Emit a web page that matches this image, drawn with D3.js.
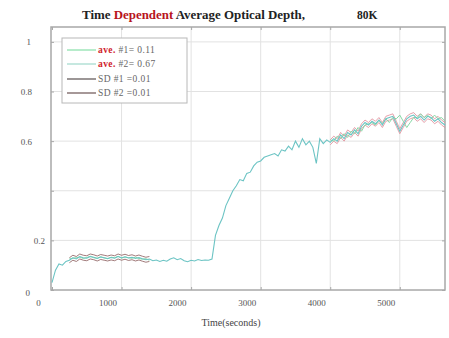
<!DOCTYPE html>
<html>
<head>
<meta charset="utf-8">
<script src="https://cdn.jsdelivr.net/npm/d3@7/dist/d3.min.js"></script>
<style>
  html, body { margin: 0; padding: 0; background: #fff; }
  svg { display: block; font-family: "Liberation Serif", "Times New Roman", serif; }
</style>
</head>
<body>
<svg id="chart" width="449" height="338"></svg>
<script>
// Optical depth sampled every 50 s from t = 0 to t = 5650 s
const sampleStep = 50;
const opticalDepth = [
  0.03, 0.08, 0.105, 0.10, 0.115, 0.12, 0.13, 0.125, 0.135, 0.13,
  0.128, 0.135, 0.132, 0.127, 0.133, 0.13, 0.127, 0.131, 0.128, 0.135,
  0.13, 0.134, 0.129, 0.132, 0.127, 0.131, 0.126, 0.122, 0.125, 0.118,
  0.121, 0.115, 0.12, 0.116, 0.125, 0.13, 0.122, 0.127, 0.118, 0.114,
  0.12, 0.117, 0.123, 0.119, 0.121, 0.12, 0.125, 0.22, 0.26, 0.29,
  0.34, 0.37, 0.40, 0.42, 0.445, 0.44, 0.47, 0.475, 0.50, 0.515,
  0.52, 0.535, 0.54, 0.545, 0.55, 0.54, 0.565, 0.56, 0.58, 0.565,
  0.60, 0.575, 0.61, 0.585, 0.60, 0.575, 0.51, 0.61, 0.59, 0.605,
  0.595, 0.61, 0.60, 0.625, 0.61, 0.635, 0.625, 0.645, 0.63, 0.66,
  0.675, 0.665, 0.68, 0.67, 0.685, 0.665, 0.69, 0.695, 0.70, 0.67,
  0.64, 0.665, 0.69, 0.70, 0.705, 0.69, 0.70, 0.685, 0.70, 0.695,
  0.68, 0.69, 0.675, 0.665
];

// Second trace over the two averaging windows
const window1Start = 250;
const window1Depth = [
  0.125, 0.128, 0.13, 0.133, 0.127, 0.131, 0.136, 0.13, 0.128, 0.134,
  0.129, 0.126, 0.132, 0.13, 0.136, 0.128, 0.133, 0.13, 0.128, 0.132,
  0.127, 0.124, 0.126, 0.12
];
const window2Start = 4000;
const window2Depth = [
  0.605, 0.60, 0.62, 0.61, 0.63, 0.615, 0.64, 0.63, 0.655, 0.64,
  0.665, 0.67, 0.675, 0.665, 0.685, 0.67, 0.69, 0.675, 0.695, 0.69,
  0.705, 0.68, 0.655, 0.675, 0.695, 0.695, 0.71, 0.695, 0.705, 0.69,
  0.705, 0.69, 0.695, 0.68
];

// Window statistics
const windowAverages = [0.11, 0.67];
const windowSD = [0.01, 0.01];

// Axis ticks
const xTicks = [0, 1000, 2000, 3000, 4000, 5000];
const yTicks = [0, 0.2, 0.4, 0.6, 0.8, 1];
const yTickLabels = ["0", "0.2", "", "0.6", "0.8", "1"];

const legendLabels = ["#1= 0.11", "#2= 0.67", "SD #1 =0.01", "SD #2 =0.01"];

const svg = d3.select("#chart");
const plotLeft = 51, plotRight = 445, plotTop = 27, plotBottom = 290;

const x = d3.scaleLinear().domain([0, 5650]).range([52, plotRight]);
const y = d3.scaleLinear().domain([0, 1.06]).range([plotBottom, plotTop]);

// grid
const grid = svg.append("g");
grid.selectAll("line.v").data(xTicks.slice(1)).join("line")
  .attr("x1", d => x(d)).attr("x2", d => x(d))
  .attr("y1", plotTop).attr("y2", plotBottom)
  .attr("stroke", "#e2e2e2").attr("stroke-width", 1);
grid.selectAll("line.h").data(yTicks.slice(1)).join("line")
  .attr("x1", plotLeft).attr("x2", plotRight)
  .attr("y1", d => y(d)).attr("y2", d => y(d))
  .attr("stroke", "#e2e2e2").attr("stroke-width", 1);

// axes with inward ticks
const axisColor = "#a8a8a8";
const xAxis = svg.append("g").attr("transform", `translate(0,${plotBottom})`)
  .call(d3.axisBottom(x).tickValues(xTicks).tickSize(-3).tickFormat(d => d));
const xAxisTop = svg.append("g").attr("transform", `translate(0,${plotTop})`)
  .call(d3.axisTop(x).tickValues(xTicks).tickSize(-3).tickFormat(""));
const yAxis = svg.append("g").attr("transform", `translate(${plotLeft},0)`)
  .call(d3.axisLeft(y).tickValues(yTicks).tickSize(-3).tickFormat((d, i) => yTickLabels[i]));
const yAxisRight = svg.append("g").attr("transform", `translate(${plotRight},0)`)
  .call(d3.axisRight(y).tickValues(yTicks).tickSize(-3).tickFormat(""));

[xAxis, xAxisTop, yAxis, yAxisRight].forEach(g => {
  g.select(".domain").remove();
  g.selectAll(".tick line").attr("stroke", axisColor).attr("stroke-width", 1);
  g.selectAll("text").attr("fill", "#555").attr("font-size", 9)
    .attr("font-family", "'Liberation Serif', serif");
});
xAxis.selectAll("text").attr("dx", -14).attr("dy", 13);
// per-label nudges on the y axis labels: [x end offset, y shift]
const yNudge = { "0": [-26, 3], "0.2": [-11, 0], "0.6": [-24, 0], "0.8": [-24, 0], "1": [-25, 0] };
yAxis.selectAll(".tick text").each(function (d, i) {
  const n = yNudge[yTickLabels[i]] || [0, 0];
  d3.select(this).attr("x", 5 + n[0]).attr("dy", "0.32em").attr("transform", `translate(0,${n[1]})`);
});

// frame
svg.append("rect").attr("x", plotLeft).attr("y", plotTop)
  .attr("width", plotRight - plotLeft).attr("height", plotBottom - plotTop)
  .attr("fill", "none").attr("stroke", axisColor).attr("stroke-width", 1.5);

const line = d3.line().x(d => x(d[0])).y(d => y(d[1]));

const mainPts = opticalDepth.map((v, i) => [i * sampleStep, v]);
const w1Pts = window1Depth.map((v, i) => [window1Start + i * sampleStep, v]);
const w2Pts = window2Depth.map((v, i) => [window2Start + i * sampleStep, v]);

function inRange(a, b) { return mainPts.filter(p => p[0] >= a && p[0] <= b); }
const win1 = inRange(window1Start, window1Start + (window1Depth.length - 1) * sampleStep);
const win2 = inRange(window2Start, window2Start + (window2Depth.length - 1) * sampleStep);

const plot = svg.append("g");
// standard-deviation envelopes
[[win1, windowSD[0], "#8a5a5a"], [win2, windowSD[1], "#e08a96"]].forEach(([pts, sd, c]) => {
  [sd, -sd].forEach(off => {
    plot.append("path").datum(pts.map(p => [p[0], p[1] + off]))
      .attr("d", line).attr("fill", "none").attr("stroke", c)
      .attr("stroke-width", 1).attr("opacity", 0.8);
  });
});
// second trace
[w1Pts, w2Pts].forEach(pts => {
  plot.append("path").datum(pts).attr("d", line)
    .attr("fill", "none").attr("stroke", "#86d9a6").attr("stroke-width", 1);
});
// main trace
plot.append("path").datum(mainPts).attr("d", line)
  .attr("fill", "none").attr("stroke", "#6cc4c4").attr("stroke-width", 1.1);

// title
const title = svg.append("text").attr("x", 82).attr("y", 19)
  .attr("font-size", 11.5).attr("font-weight", "bold").attr("fill", "#222")
  .attr("textLength", 223).attr("lengthAdjust", "spacingAndGlyphs");
title.append("tspan").text("Time ");
title.append("tspan").attr("fill", "#b8141c").text("Dependent");
title.append("tspan").text(" Average Optical Depth,");
svg.append("text").attr("x", 357).attr("y", 19)
  .attr("font-size", 11.5).attr("font-weight", "bold").attr("fill", "#222").text("80K");

// x axis title
svg.append("text").attr("x", 231).attr("y", 326).attr("text-anchor", "middle")
  .attr("font-size", 10).attr("fill", "#444").text("Time(seconds)");

// legend
const lg = svg.append("g");
lg.append("rect").attr("x", 62).attr("y", 38).attr("width", 125).attr("height", 65)
  .attr("fill", "#fff").attr("stroke", "#b8b8b8").attr("stroke-width", 1);
const legendColors = ["#86e0a8", "#9fd9cc", "#5a5050", "#6a5252"];
const legendY = [50, 64, 79, 93];
legendLabels.forEach((lab, i) => {
  lg.append("line").attr("x1", 67).attr("x2", 96)
    .attr("y1", legendY[i]).attr("y2", legendY[i])
    .attr("stroke", legendColors[i]).attr("stroke-width", 1.2);
  const t = lg.append("text").attr("x", 98).attr("y", legendY[i] + 3)
    .attr("font-size", 9.5).attr("fill", "#666").attr("letter-spacing", 0.4);
  if (i < 2) {
    t.append("tspan").attr("fill", "#d0242c").attr("font-weight", "bold").text("ave. ");
  }
  t.append("tspan").text(lab);
});
</script>
</body>
</html>
